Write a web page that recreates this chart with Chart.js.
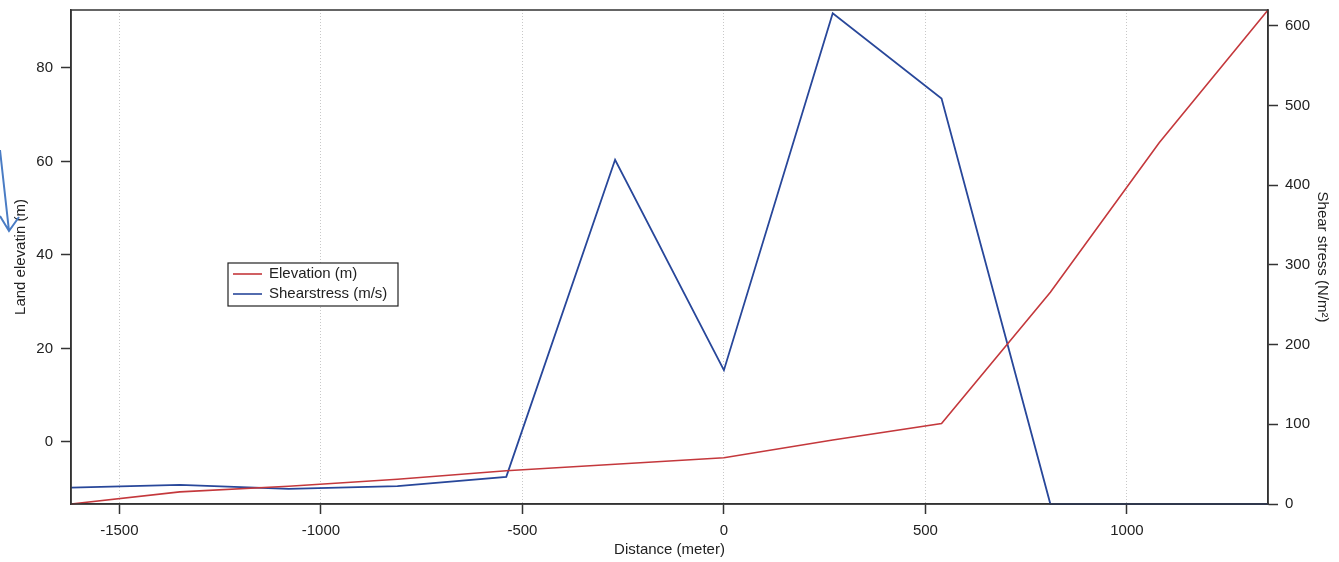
<!DOCTYPE html>
<html>
<head>
<meta charset="utf-8">
<script src="https://cdn.jsdelivr.net/npm/chart.js@4/dist/chart.umd.min.js"></script>
<style>
  html, body { margin: 0; padding: 0; background: #fff; }
  #wrap { width: 1339px; height: 562px; }
</style>
</head>
<body>
<div id="wrap"><canvas id="c" width="1339" height="562"></canvas></div>
<script>
// values
const DIST = [-1620, -1350, -1080, -810, -540, -270, 0, 270, 540, 810, 1080, 1350];
const ELEV = [-13.3, -10.7, -9.5, -8.0, -6.2, -4.8, -3.4, 0.4, 3.9, 32, 64, 92.4];
const SHEAR = [20.5, 24, 19, 22.5, 34, 432, 168, 616, 509, 0, 0, 0];
const X_TICKS = [-1500, -1000, -500, 0, 500, 1000];
const Y_TICKS = [0, 20, 40, 60, 80];
const Y2_TICKS = [0, 100, 200, 300, 400, 500, 600];

const RED = "#c4383c";
const BLUE = "#28479a";
const INK = "#222";
const FONT = { family: "'Liberation Sans', Arial, sans-serif", size: 15 };

const pts = (ys) => DIST.map((x, i) => ({ x, y: ys[i] }));
const fixTicks = (vals) => (s) => { s.ticks = vals.map((v) => ({ value: v })); };
const plain = (v) => String(v);
const sideFit = (s) => { s.width = 71; s.paddingTop = 0; s.paddingBottom = 0; };

// frame round the plot, legend box and the blue arrow at the left edge
const extras = {
  id: "extras",
  afterDraw(chart) {
    const { ctx, chartArea: a } = chart;
    ctx.save();
    ctx.strokeStyle = "#333";
    ctx.lineWidth = 1.5;
    ctx.strokeRect(a.left, a.top, a.right - a.left, a.bottom - a.top);

    // legend
    const lx = a.left + 157, ly = a.top + 253;
    ctx.fillStyle = "#fff";
    ctx.fillRect(lx, ly, 170, 43);
    ctx.strokeStyle = "#222";
    ctx.lineWidth = 1.2;
    ctx.strokeRect(lx, ly, 170, 43);
    ctx.font = `${FONT.size}px ${FONT.family}`;
    ctx.textBaseline = "middle";
    chart.data.datasets.forEach((d, i) => {
      const y = ly + 11 + i * 20;
      ctx.strokeStyle = d.borderColor;
      ctx.lineWidth = 1.6;
      ctx.beginPath(); ctx.moveTo(lx + 5, y); ctx.lineTo(lx + 34, y); ctx.stroke();
      ctx.fillStyle = INK;
      ctx.fillText(d.label, lx + 41, y);
    });

    // arrow
    ctx.strokeStyle = "#4a7cc4";
    ctx.lineWidth = 2;
    ctx.beginPath();
    ctx.moveTo(0, 150); ctx.lineTo(9, 231);
    ctx.moveTo(0, 216); ctx.lineTo(9, 231); ctx.lineTo(19, 217);
    ctx.stroke();
    ctx.restore();
  },
};

new Chart(document.getElementById("c"), {
  type: "line",
  data: {
    datasets: [
      { label: "Elevation (m)", data: pts(ELEV), yAxisID: "y", borderColor: RED, borderWidth: 1.6, pointRadius: 0, tension: 0, clip: false },
      { label: "Shearstress (m/s)", data: pts(SHEAR), yAxisID: "y2", borderColor: BLUE, borderWidth: 1.8, pointRadius: 0, tension: 0, clip: false },
    ],
  },
  options: {
    responsive: false, animation: false,
    layout: { padding: { top: 10, left: 0, right: 0, bottom: 0 } },
    plugins: { legend: { display: false }, tooltip: { enabled: false } },
    scales: {
      x: {
        type: "linear", min: -1620, max: 1350,
        afterBuildTicks: fixTicks(X_TICKS),
        afterFit: (s) => { s.height = 58; s.paddingLeft = 0; s.paddingRight = 0; },
        grid: { color: "#c8c8c8", lineWidth: 1, tickColor: "#333", tickLength: 10, tickWidth: 1.5 },
        border: { color: "#333", width: 1.5, dash: [1, 2] },
        ticks: { color: INK, font: FONT, padding: 8, callback: plain },
        title: { display: true, text: "Distance (meter)", color: INK, font: FONT, padding: { top: 0, bottom: 3 } },
      },
      y: {
        position: "left", min: -13.3, max: 92.4,
        afterBuildTicks: fixTicks(Y_TICKS),
        afterFit: sideFit,
        grid: { drawOnChartArea: false, tickColor: "#333", tickLength: 10, tickWidth: 1.5 },
        border: { color: "#333", width: 1.5 },
        ticks: { color: INK, font: FONT, padding: 8, callback: plain },
        title: { display: true, text: "Land elevatin (m)", color: INK, font: FONT, padding: { top: 12, bottom: 0 } },
      },
      y2: {
        position: "right", min: 0, max: 620,
        afterBuildTicks: fixTicks(Y2_TICKS),
        afterFit: sideFit,
        grid: { drawOnChartArea: false, tickColor: "#333", tickLength: 10, tickWidth: 1.5 },
        border: { color: "#333", width: 1.5 },
        ticks: { color: INK, font: FONT, padding: 7, callback: plain },
        title: { display: true, text: "Shear stress (N/m²)", color: INK, font: FONT, padding: { top: 8, bottom: 0 } },
      },
    },
  },
  plugins: [extras],
});
</script>
</body>
</html>
